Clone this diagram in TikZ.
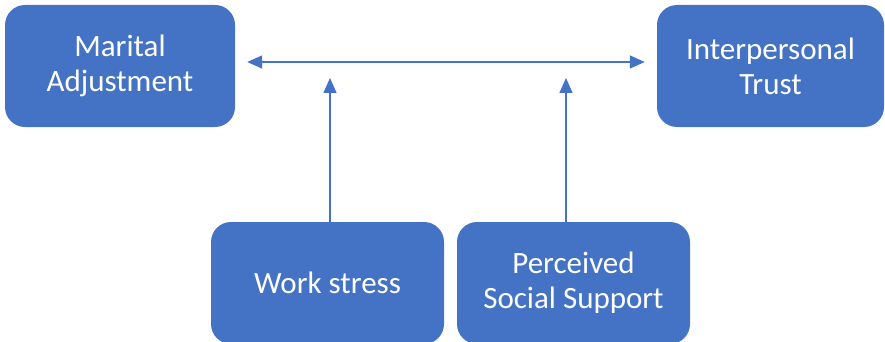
\documentclass[tikz,border=0pt]{standalone}
\usepackage{fontspec}
\setmainfont{Carlito}
\usetikzlibrary{arrows.meta}
\definecolor{boxblue}{HTML}{4472C4}
\begin{document}
\begin{tikzpicture}[x=1pt,y=-1pt,
  block/.style={fill=boxblue, rounded corners=20pt, draw=none, text=white,
    font=\fontsize{31}{35}\selectfont, align=center, inner sep=0pt,
    minimum width=#1, minimum height=122pt},
  block/.default=230pt,
  tip/.tip={Triangle[length=15pt,width=13pt]},
  link/.style={draw=boxblue, line width=1.4pt, -tip}]
  \useasboundingbox (0,0) rectangle (885,342);
  % the four boxes
  \node[block] (ma) at (120,66) {Marital\\Adjustment};
  \node[block=227pt] (it) at (770.5,66) {Interpersonal\\Trust};
  \node[block=233pt] (ws) at (327.5,283) {Work stress};
  \node[block=233pt] (ps) at (573.5,283) {Perceived\\Social Support};
  % double arrow between the top boxes, with the two moderators pointing at it
  \coordinate (hl) at ([xshift=12pt,yshift=4pt]ma.east);
  \coordinate (hr) at ([xshift=-12pt,yshift=4pt]it.west);
  \coordinate (t1) at (330,78);
  \coordinate (t2) at (566,78);
  \draw[link, tip-tip] (hl) -- (hr);
  \draw[link] (ws.north -| t1) -- (t1);
  \draw[link] (ps.north -| t2) -- (t2);
\end{tikzpicture}
\end{document}
